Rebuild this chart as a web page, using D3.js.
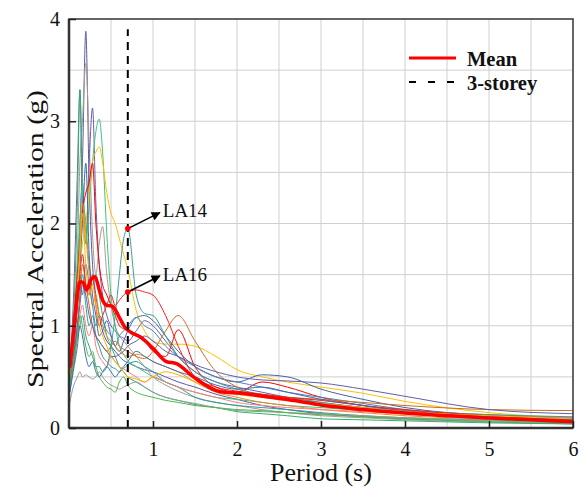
<!DOCTYPE html>
<meta charset="utf-8">
<head>
	<script src="https://d3js.org/d3.v7.min.js"></script>
</head>
<style type="text/css">
	body {
		margin: 0;
		background: #fff;
	}
	svg {
		display: block;
	}
	svg text {
		font-family: "Liberation Serif", "DejaVu Serif", serif;
	}
	.grid line {
		stroke: #cfcfcf;
		stroke-width: 1px;
	}
	.record {
		fill: none;
		stroke-width: 1px;
	}
</style>
<body>
<script>

	// periods (s) at which each record's spectrum was read
	var periods = [0.01, 0.05, 0.1, 0.13, 0.16, 0.2, 0.24, 0.28, 0.32, 0.36, 0.4, 0.45, 0.5, 0.55, 0.6, 0.65,
		0.7, 0.8, 0.9, 1.0, 1.15, 1.3, 1.5, 1.75, 2.0, 2.3, 2.6, 3.0, 3.5, 4.0, 5.0, 6.0];

	var recordNames = ["LA01", "LA02", "LA03", "LA04", "LA05", "LA06", "LA07", "LA08", "LA09", "LA10",
		"LA11", "LA12", "LA13", "LA14", "LA15", "LA16", "LA17", "LA18", "LA19", "LA20"];

	var recordColors = ["#5959a6", "#a89a8e", "#6b5fb0", "#2db36b", "#3cc47c", "#ffc000", "#4463a8", "#ff0000", "#f08a24", "#2a9d9a",
		"#4f81bd", "#ff7c80", "#c8701a", "#3a9e96", "#6060a8", "#ff1a1a", "#9a9a9a", "#50b848", "#3b6fb6", "#f5b400"];

	// spectral acceleration (g), one row per record
	var recordValues = [
		[0.45, 0.8, 1.5, 2.0, 2.6, 3.88, 2.4, 1.6, 1.3, 1.1, 0.95, 0.85, 0.8, 0.75, 0.7, 0.66, 0.64, 0.6, 0.57, 0.55, 0.5, 0.45, 0.4, 0.33, 0.28, 0.22, 0.18, 0.14, 0.11, 0.09, 0.06, 0.04],
		[0.5, 0.9, 1.7, 2.6, 3.0, 3.57, 2.8, 1.9, 1.5, 1.8, 1.97, 1.5, 1.2, 1.0, 0.9, 0.85, 0.8, 0.7, 0.6, 0.5, 0.42, 0.36, 0.3, 0.25, 0.22, 0.18, 0.15, 0.12, 0.1, 0.08, 0.06, 0.05],
		[0.6, 1.2, 2.5, 3.31, 2.2, 1.8, 2.6, 3.13, 2.2, 1.6, 1.3, 1.1, 1.0, 0.95, 0.9, 0.88, 0.85, 0.95, 1.05, 1.0, 0.85, 0.7, 0.55, 0.45, 0.4, 0.35, 0.3, 0.25, 0.2, 0.16, 0.11, 0.08],
		[0.5, 1.0, 2.2, 3.3, 2.4, 2.0, 1.6, 1.4, 1.5, 1.3, 1.1, 0.9, 0.8, 0.7, 0.6, 0.55, 0.5, 0.45, 0.4, 0.35, 0.3, 0.27, 0.23, 0.2, 0.16, 0.14, 0.12, 0.09, 0.08, 0.07, 0.05, 0.04],
		[0.55, 0.9, 1.6, 2.0, 2.4, 1.8, 2.2, 2.6, 2.9, 3.02, 2.7, 1.9, 1.3, 1.0, 0.8, 0.72, 0.66, 0.6, 0.55, 0.5, 0.45, 0.4, 0.35, 0.3, 0.28, 0.25, 0.22, 0.2, 0.17, 0.15, 0.12, 0.1],
		[0.45, 0.8, 1.3, 1.6, 1.8, 2.0, 2.3, 2.6, 2.7, 2.75, 2.6, 2.3, 2.1, 2.0, 1.85, 1.7, 1.55, 1.15, 0.95, 0.85, 0.82, 0.82, 0.8, 0.7, 0.57, 0.5, 0.45, 0.4, 0.34, 0.26, 0.15, 0.1],
		[0.4, 0.7, 1.2, 1.6, 2.0, 2.59, 1.7, 1.3, 1.1, 0.9, 0.95, 1.05, 0.9, 0.8, 0.75, 0.85, 0.95, 1.08, 1.1, 1.05, 0.9, 0.75, 0.6, 0.5, 0.45, 0.52, 0.5, 0.38, 0.28, 0.2, 0.12, 0.08],
		[0.6, 1.0, 1.5, 1.8, 2.1, 2.3, 2.4, 2.59, 2.0, 1.6, 1.4, 1.3, 1.2, 1.1, 1.0, 0.97, 0.95, 0.9, 0.85, 0.75, 0.7, 0.96, 0.6, 0.4, 0.35, 0.45, 0.4, 0.3, 0.22, 0.17, 0.1, 0.07],
		[0.5, 0.9, 1.4, 1.8, 2.2, 1.9, 1.5, 1.2, 1.3, 1.1, 1.0, 0.9, 0.85, 0.8, 0.75, 0.72, 0.7, 0.72, 0.7, 0.65, 0.6, 0.55, 0.45, 0.35, 0.3, 0.25, 0.22, 0.18, 0.15, 0.12, 0.09, 0.07],
		[0.35, 0.6, 1.0, 1.3, 1.5, 1.2, 1.0, 1.1, 0.9, 0.8, 0.7, 0.65, 0.6, 0.58, 0.55, 0.58, 0.62, 0.65, 0.6, 0.55, 0.45, 0.4, 0.3, 0.25, 0.22, 0.2, 0.18, 0.15, 0.12, 0.1, 0.08, 0.06],
		[0.5, 0.8, 1.2, 1.5, 1.3, 1.6, 1.4, 1.2, 1.0, 1.1, 1.05, 0.95, 0.9, 0.8, 0.9, 0.95, 1.0, 1.08, 1.0, 0.95, 0.8, 0.7, 0.6, 0.5, 0.45, 0.4, 0.35, 0.3, 0.24, 0.18, 0.13, 0.1],
		[0.4, 0.6, 0.9, 1.1, 1.2, 1.0, 0.9, 1.0, 0.8, 0.7, 0.65, 0.6, 0.7, 0.65, 0.6, 0.58, 0.55, 0.5, 0.45, 0.5, 0.45, 0.4, 0.35, 0.3, 0.25, 0.22, 0.2, 0.18, 0.16, 0.14, 0.12, 0.1],
		[0.5, 0.7, 1.0, 1.3, 1.6, 1.4, 1.2, 1.0, 0.9, 0.85, 0.8, 0.75, 0.8, 0.85, 0.8, 0.77, 0.75, 0.7, 0.68, 0.75, 0.95, 1.1, 0.85, 0.55, 0.4, 0.32, 0.3, 0.28, 0.25, 0.22, 0.18, 0.17],
		[0.45, 0.6, 0.9, 1.0, 1.1, 0.9, 0.8, 0.7, 0.6, 0.6, 0.55, 0.6, 0.8, 1.1, 1.5, 1.85, 1.95, 1.3, 1.12, 1.1, 0.9, 0.7, 0.55, 0.45, 0.38, 0.33, 0.3, 0.25, 0.2, 0.17, 0.13, 0.11],
		[0.5, 0.7, 1.0, 1.2, 1.4, 1.3, 1.1, 1.0, 0.9, 0.85, 0.8, 0.75, 0.7, 0.7, 0.72, 0.75, 0.8, 0.85, 0.9, 0.85, 0.75, 0.7, 0.62, 0.55, 0.5, 0.47, 0.46, 0.44, 0.38, 0.31, 0.18, 0.14],
		[0.55, 0.8, 1.2, 1.5, 1.7, 1.4, 1.3, 1.5, 1.2, 1.0, 1.1, 1.2, 1.3, 1.2, 1.25, 1.3, 1.33, 1.35, 1.33, 1.3, 1.1, 0.8, 0.5, 0.4, 0.36, 0.33, 0.3, 0.27, 0.22, 0.18, 0.12, 0.09],
		[0.25, 0.4, 0.5, 0.55, 0.5, 0.52, 0.5, 0.48, 0.5, 0.55, 0.5, 0.45, 0.42, 0.4, 0.38, 0.4, 0.42, 0.45, 0.4, 0.35, 0.3, 0.27, 0.24, 0.2, 0.17, 0.16, 0.15, 0.14, 0.12, 0.1, 0.08, 0.06],
		[0.4, 0.6, 0.9, 1.1, 1.0, 0.8, 0.7, 0.75, 0.6, 0.5, 0.45, 0.4, 0.38, 0.35, 0.45, 0.5, 0.42, 0.35, 0.32, 0.3, 0.27, 0.25, 0.22, 0.2, 0.18, 0.17, 0.15, 0.13, 0.11, 0.09, 0.07, 0.05],
		[0.35, 0.55, 0.8, 1.0, 0.9, 0.7, 0.6, 0.65, 0.55, 0.5, 0.55, 0.6, 0.55, 0.5, 0.55, 0.6, 0.65, 0.75, 0.7, 0.65, 0.6, 0.55, 0.5, 0.42, 0.38, 0.4, 0.35, 0.28, 0.22, 0.16, 0.11, 0.08],
		[0.5, 0.8, 1.3, 1.7, 2.1, 1.6, 1.3, 1.4, 1.2, 1.0, 0.9, 0.8, 0.7, 0.65, 0.6, 0.55, 0.5, 0.48, 0.45, 0.5, 0.55, 0.52, 0.45, 0.38, 0.33, 0.3, 0.27, 0.24, 0.2, 0.16, 0.12, 0.09]
	];

	// mean spectrum
	var meanPeriods = [0.01, 0.05, 0.1, 0.13, 0.17, 0.21, 0.26, 0.31, 0.36, 0.4, 0.45, 0.52, 0.6, 0.67, 0.75, 0.85,
		1.0, 1.16, 1.28, 1.48, 1.8, 2.04, 2.4, 2.75, 3.0, 3.5, 4.0, 5.0, 6.0];
	var meanValues = [0.59, 0.9, 1.3, 1.43, 1.42, 1.35, 1.45, 1.48, 1.35, 1.25, 1.2, 1.19, 1.08, 0.98, 0.93, 0.89,
		0.78, 0.65, 0.63, 0.5, 0.355, 0.34, 0.3, 0.26, 0.225, 0.18, 0.146, 0.098, 0.062];

	var buildingPeriod = 0.7;
	var labelled = ["LA14", "LA16"];

	var xTicks = [1, 2, 3, 4, 5, 6];
	var yTicks = [0, 1, 2, 3, 4];
	var gridStep = 0.5;

	var serif = "'Liberation Serif', 'DejaVu Serif', serif";

	var width = 583,
		height = 488,
		margin = {top: 19, right: 10, bottom: 60, left: 69};

	var svg = d3.select("body").append("svg")
		.attr("width", width)
		.attr("height", height);

	var x = d3.scaleLinear().domain([0, 6]).range([margin.left, width - margin.right]);
	var y = d3.scaleLinear().domain([0, 4]).range([height - margin.bottom, margin.top]);

	// grid
	var grid = svg.append("g").attr("class", "grid");
	grid.selectAll(".gx")
		.data(d3.range(gridStep, 6, gridStep))
	 .enter().append("line")
		.attr("x1", function(d) { return x(d); })
		.attr("x2", function(d) { return x(d); })
		.attr("y1", y(0))
		.attr("y2", y(4));
	grid.selectAll(".gy")
		.data(d3.range(gridStep, 4, gridStep))
	 .enter().append("line")
		.attr("x1", x(0))
		.attr("x2", x(6))
		.attr("y1", function(d) { return y(d); })
		.attr("y2", function(d) { return y(d); });

	svg.append("clipPath").attr("id", "plot")
		.append("rect")
		.attr("x", x(0)).attr("y", y(4))
		.attr("width", x(6) - x(0)).attr("height", y(0) - y(4));

	var line = d3.line()
		.x(function(d) { return x(d[0]); })
		.y(function(d) { return y(d[1]); })
		.curve(d3.curveMonotoneX);

	var records = recordNames.map(function(name, i) {
		return {
			name: name,
			color: recordColors[i],
			points: periods.map(function(p, j) { return [p, recordValues[i][j]]; })
		};
	});

	var plot = svg.append("g").attr("clip-path", "url(#plot)");

	plot.selectAll(".record")
		.data(records)
	 .enter().append("path")
		.attr("class", "record")
		.attr("stroke", function(d) { return d.color; })
		.attr("d", function(d) { return line(d.points); });

	plot.append("path")
		.attr("fill", "none")
		.attr("stroke", "#ff0000")
		.attr("stroke-width", 3.5)
		.attr("stroke-linejoin", "round")
		.attr("d", line(meanPeriods.map(function(p, i) { return [p, meanValues[i]]; })));

	// 3-storey period
	svg.append("line")
		.attr("x1", x(buildingPeriod)).attr("x2", x(buildingPeriod))
		.attr("y1", y(0)).attr("y2", y(3.9))
		.attr("stroke", "#000")
		.attr("stroke-width", 2)
		.attr("stroke-dasharray", "8,6");

	// annotations
	svg.append("defs").append("marker")
		.attr("id", "arrow")
		.attr("viewBox", "0 0 10 10")
		.attr("refX", 9).attr("refY", 5)
		.attr("markerWidth", 7).attr("markerHeight", 6)
		.attr("markerUnits", "strokeWidth")
		.attr("orient", "auto")
		.append("path")
		.attr("d", "M0,0L10,5L0,10Z")
		.attr("fill", "#000");

	var idx = periods.indexOf(buildingPeriod);
	labelled.forEach(function(name) {
		var rec = records.filter(function(r) { return r.name === name; })[0];
		var v = rec.points[idx][1];
		var px = x(buildingPeriod), py = y(v);
		svg.append("line")
			.attr("x1", px + 2).attr("y1", py - 1)
			.attr("x2", px + 32).attr("y2", py - 16)
			.attr("stroke", "#000")
			.attr("stroke-width", 1.5)
			.attr("marker-end", "url(#arrow)");
		svg.append("circle")
			.attr("cx", px).attr("cy", py).attr("r", 2.8)
			.attr("fill", "#ff0000");
		svg.append("text")
			.attr("x", px + 35).attr("y", py - 11.5)
			.style("font-family", serif)
			.attr("font-size", 19)
			.attr("fill", "#111")
			.text(name);
	});

	// frame
	svg.append("rect")
		.attr("x", x(0)).attr("y", y(4))
		.attr("width", x(6) - x(0)).attr("height", y(0) - y(4))
		.attr("fill", "none")
		.attr("stroke", "#333")
		.attr("stroke-width", 1.5);
	svg.append("line")
		.attr("x1", x(0)).attr("x2", x(0)).attr("y1", y(0)).attr("y2", y(4))
		.attr("stroke", "#333").attr("stroke-width", 2.5);
	svg.append("line")
		.attr("x1", x(0)).attr("x2", x(6)).attr("y1", y(0)).attr("y2", y(0))
		.attr("stroke", "#333").attr("stroke-width", 2.5);

	// axes
	var xAxis = svg.append("g")
		.attr("transform", "translate(0," + y(0) + ")")
		.call(d3.axisBottom(x).tickValues(xTicks).tickFormat(d3.format("d"))
			.tickSizeInner(-7).tickSizeOuter(0).tickPadding(14));
	var yAxis = svg.append("g")
		.attr("transform", "translate(" + x(0) + ",0)")
		.call(d3.axisLeft(y).tickValues(yTicks).tickFormat(d3.format("d"))
			.tickSizeInner(-7).tickSizeOuter(0).tickPadding(9));
	[xAxis, yAxis].forEach(function(a) {
		a.attr("font-family", null);
		a.select(".domain").remove();
		a.selectAll(".tick line").attr("stroke", "#222").attr("stroke-width", 1.5);
		a.selectAll(".tick text")
			.style("font-family", serif)
			.attr("font-size", 20)
			.attr("fill", "#111");
	});

	svg.append("text")
		.attr("x", (x(0) + x(6)) / 2)
		.attr("y", 481)
		.attr("text-anchor", "middle")
		.style("font-family", serif)
		.attr("font-size", 26)
		.attr("fill", "#111")
		.text("Period (s)");

	svg.append("text")
		.attr("transform", "translate(43,239) rotate(-90)")
		.attr("text-anchor", "middle")
		.style("font-family", serif)
		.attr("font-size", 24)
		.attr("textLength", 298)
		.attr("lengthAdjust", "spacingAndGlyphs")
		.attr("fill", "#111")
		.text("Spectral Acceleration (g)");

	// legend
	var legend = svg.append("g").attr("transform", "translate(409,58)");
	legend.append("line")
		.attr("x1", 0).attr("x2", 47).attr("y1", 0).attr("y2", 0)
		.attr("stroke", "#ff0000").attr("stroke-width", 3);
	legend.append("text")
		.attr("x", 58).attr("y", 8)
		.style("font-family", serif)
		.attr("font-size", 20.5).attr("font-weight", "bold")
		.attr("fill", "#111")
		.text("Mean");
	legend.append("line")
		.attr("x1", 0).attr("x2", 47).attr("y1", 24).attr("y2", 24)
		.attr("stroke", "#000").attr("stroke-width", 2)
		.attr("stroke-dasharray", "7,12");
	legend.append("text")
		.attr("x", 58).attr("y", 32)
		.style("font-family", serif)
		.attr("font-size", 20.5).attr("font-weight", "bold")
		.attr("fill", "#111")
		.text("3-storey");

</script>
</body>
